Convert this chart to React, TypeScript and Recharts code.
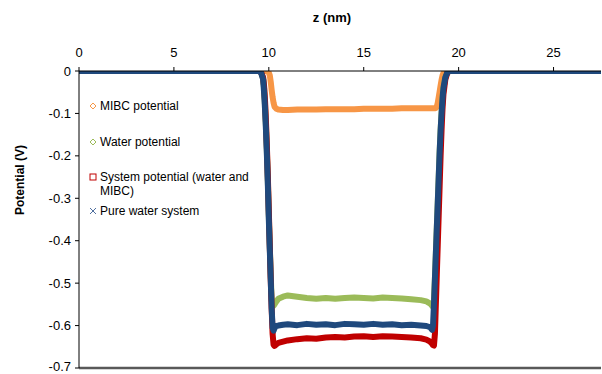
import React from 'react';
import { LineChart, Line, XAxis, YAxis, ReferenceLine, Legend } from 'recharts';

// z position (nm)
const zNm = [
  0, 1, 2, 3, 4, 5, 6, 7, 8, 9,
  9.5, 9.6, 9.7, 9.75, 9.8, 9.85, 9.9, 9.95, 10, 10.05,
  10.1, 10.15, 10.2, 10.25, 10.3, 10.4, 10.5, 10.75, 11, 11.5,
  12, 12.5, 13, 13.5, 14, 14.5, 15, 15.5, 16, 16.5,
  17, 17.5, 18, 18.3, 18.5, 18.6, 18.65, 18.7, 18.75, 18.8,
  18.85, 18.9, 18.95, 19, 19.05, 19.1, 19.15, 19.2, 19.3, 19.4,
  19.5, 20, 21, 22, 23, 24, 25, 26, 27, 27.5,
];

const mibcPotential = [
  0, 0, 0, 0, 0, 0, 0, 0, 0, 0,
  0, 0, 0, 0, 0, 0, 0, -0.001, -0.004, -0.01,
  -0.025, -0.045, -0.062, -0.075, -0.084, -0.089, -0.091, -0.092, -0.092, -0.091,
  -0.091, -0.091, -0.09, -0.09, -0.09, -0.09, -0.089, -0.089, -0.089, -0.089,
  -0.088, -0.088, -0.088, -0.088, -0.088, -0.088, -0.088, -0.088, -0.088, -0.087,
  -0.084, -0.075, -0.062, -0.048, -0.034, -0.021, -0.011, -0.005, -0.001, 0,
  0, 0, 0, 0, 0, 0, 0, 0, 0, 0,
];

const waterPotential = [
  0, 0, 0, 0, 0, 0, 0, 0, 0, 0,
  0, -0.004, -0.017, -0.04, -0.08, -0.13, -0.19, -0.26, -0.34, -0.41,
  -0.48, -0.54, -0.553, -0.553, -0.55, -0.543, -0.537, -0.532, -0.529, -0.532,
  -0.535, -0.537, -0.535, -0.537, -0.535, -0.534, -0.535, -0.536, -0.534, -0.535,
  -0.536, -0.538, -0.54, -0.543, -0.548, -0.553, -0.556, -0.54, -0.49, -0.43,
  -0.37, -0.31, -0.25, -0.19, -0.14, -0.1, -0.065, -0.04, -0.015, -0.004,
  0, 0, 0, 0, 0, 0, 0, 0, 0, 0,
];

const systemPotential = [
  0, 0, 0, 0, 0, 0, 0, 0, 0, 0,
  0, -0.004, -0.015, -0.035, -0.07, -0.12, -0.18, -0.25, -0.33, -0.41,
  -0.49, -0.56, -0.62, -0.645, -0.648, -0.644, -0.641, -0.638, -0.635, -0.632,
  -0.63, -0.631, -0.628, -0.627, -0.628, -0.626, -0.625, -0.627, -0.625, -0.626,
  -0.627, -0.628, -0.63, -0.633, -0.638, -0.643, -0.646, -0.647, -0.62, -0.55,
  -0.48, -0.41, -0.34, -0.27, -0.2, -0.14, -0.09, -0.055, -0.02, -0.005,
  0, 0, 0, 0, 0, 0, 0, 0, 0, 0,
];

const pureWaterPotential = [
  0, 0, 0, 0, 0, 0, 0, 0, 0, 0,
  0, -0.005, -0.02, -0.05, -0.09, -0.14, -0.2, -0.27, -0.35, -0.42,
  -0.49, -0.56, -0.605, -0.612, -0.606, -0.601, -0.6, -0.598, -0.597, -0.599,
  -0.596, -0.598, -0.597, -0.599, -0.596, -0.597, -0.598, -0.596, -0.598, -0.597,
  -0.599, -0.598, -0.6, -0.601, -0.604, -0.61, -0.6, -0.55, -0.49, -0.43,
  -0.37, -0.31, -0.25, -0.19, -0.14, -0.1, -0.065, -0.04, -0.015, -0.004,
  0, 0, 0, 0, 0, 0, 0, 0, 0, 0,
];

const xTicks = [0, 5, 10, 15, 20, 25];
const yTicks = [0, -0.1, -0.2, -0.3, -0.4, -0.5, -0.6, -0.7];

const seriesNames = [
  'MIBC potential',
  'Water potential',
  'System potential (water and MIBC)',
  'Pure water system',
];
const colors = ['#F79646', '#9BBB59', '#C00000', '#1F497D'];

const rows = zNm.map((z, i) => ({
  z,
  mibc: mibcPotential[i],
  water: waterPotential[i],
  system: systemPotential[i],
  pure: pureWaterPotential[i],
}));

const FONT = '"Liberation Sans", Arial, sans-serif';

const XTitle = () => (
  <text x={332} y={22} textAnchor="middle" fontFamily={FONT} fontSize={13} fontWeight="bold" fill="#000">
    z (nm)
  </text>
);

const YTitle = () => (
  <text
    x={20}
    y={180}
    textAnchor="middle"
    dominantBaseline="central"
    transform="rotate(-90, 20, 180)"
    fontFamily={FONT}
    fontSize={12}
    fontWeight="bold"
    fill="#000"
  >
    Potential (V)
  </text>
);

const LegendBox = () => {
  const ox = 80;
  const oy = 90;
  const mx = 93 - ox;
  const tx = 100 - ox;
  return (
    <svg width={200} height={135} style={{ display: 'block', overflow: 'visible' }}>
      {/* MIBC diamond */}
      <polygon
        points={`${mx},${106 - oy - 3} ${mx + 3},${106 - oy} ${mx},${106 - oy + 3} ${mx - 3},${106 - oy}`}
        fill="#fff"
        stroke={colors[0]}
        strokeWidth={1}
      />
      <text x={tx} y={110 - oy} fontFamily={FONT} fontSize={12} fill="#000">{seriesNames[0]}</text>
      {/* Water diamond */}
      <polygon
        points={`${mx},${142 - oy - 3} ${mx + 3},${142 - oy} ${mx},${142 - oy + 3} ${mx - 3},${142 - oy}`}
        fill="#fff"
        stroke={colors[1]}
        strokeWidth={1}
      />
      <text x={tx} y={146 - oy} fontFamily={FONT} fontSize={12} fill="#000">{seriesNames[1]}</text>
      {/* System square */}
      <rect x={mx - 3} y={177 - oy - 3} width={6} height={6} fill="#fff" stroke={colors[2]} strokeWidth={1} />
      <text x={tx} y={181 - oy} fontFamily={FONT} fontSize={12} fill="#000">System potential (water and</text>
      <text x={tx} y={195 - oy} fontFamily={FONT} fontSize={12} fill="#000">MIBC)</text>
      {/* Pure water x */}
      <path
        d={`M${mx - 3},${211 - oy - 3} L${mx + 3},${211 - oy + 3} M${mx - 3},${211 - oy + 3} L${mx + 3},${211 - oy - 3}`}
        stroke="#4F6F9F"
        strokeWidth={1}
      />
      <text x={tx} y={215 - oy} fontFamily={FONT} fontSize={12} fill="#000">{seriesNames[3]}</text>
    </svg>
  );
};

export default function App() {
  const tickStyle = { fill: '#000', fontSize: 13, fontFamily: FONT };
  return (
    <div style={{ position: 'absolute', left: 0, top: 0, width: 602, height: 374, background: '#fff' }}>
      <LineChart width={602} height={374} data={rows} margin={{ top: 41, right: 1, bottom: 6, left: 39 }}>
        <XAxis
          dataKey="z"
          type="number"
          orientation="top"
          domain={[0, 27.5]}
          ticks={xTicks}
          height={30}
          tick={tickStyle}
          tickSize={4}
          tickMargin={10}
          axisLine={{ stroke: '#000', strokeWidth: 1 }}
          tickLine={{ stroke: '#000' }}
          label={<XTitle />}
          allowDataOverflow
        />
        <YAxis
          type="number"
          domain={[-0.7, 0]}
          ticks={yTicks}
          width={40}
          tick={tickStyle}
          tickSize={4}
          tickMargin={4}
          axisLine={{ stroke: '#000', strokeWidth: 1 }}
          tickLine={{ stroke: '#000' }}
          tickFormatter={(v: number) => (v === 0 ? '0' : String(v))}
          label={<YTitle />}
          allowDataOverflow
        />
        <ReferenceLine y={-0.7} stroke="#595959" strokeWidth={2.5} />
        <Legend
          layout="horizontal"
          verticalAlign="middle"
          align="center"
          content={() => <LegendBox />}
          wrapperStyle={{ left: 80, top: 90, width: 200, height: 135 }}
        />
        <Line dataKey="mibc" name={seriesNames[0]} stroke={colors[0]} strokeWidth={6} strokeLinejoin="round" strokeLinecap="round" dot={false} activeDot={false} isAnimationActive={false} />
        <Line dataKey="water" name={seriesNames[1]} stroke={colors[1]} strokeWidth={6} strokeLinejoin="round" strokeLinecap="round" dot={false} activeDot={false} isAnimationActive={false} />
        <Line dataKey="system" name={seriesNames[2]} stroke={colors[2]} strokeWidth={6} strokeLinejoin="round" strokeLinecap="round" dot={false} activeDot={false} isAnimationActive={false} />
        <Line dataKey="pure" name={seriesNames[3]} stroke={colors[3]} strokeWidth={6} strokeLinejoin="round" strokeLinecap="round" dot={false} activeDot={false} isAnimationActive={false} />
      </LineChart>
    </div>
  );
}
